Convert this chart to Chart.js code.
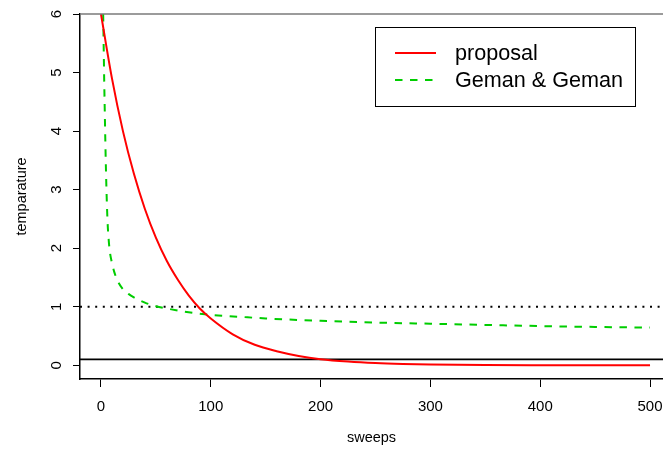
<!DOCTYPE html>
<html>
<head>
<meta charset="utf-8">
<script src="https://cdn.jsdelivr.net/npm/chart.js@4"></script>
<style>
  html, body { margin: 0; padding: 0; background: #fff; }
  canvas { display: block; }
</style>
</head>
<body>
<canvas id="tempChart" width="663" height="450"></canvas>
<script>
// sweeps / temperature values
const proposalSweeps = [0, 10, 20, 30, 40, 50, 60, 70, 80, 90, 100, 120, 140, 160, 180, 200, 225, 250, 275, 300, 350, 400, 450, 500];
const proposalTemp = [6.0, 4.9, 4.0, 3.27, 2.67, 2.18, 1.78, 1.46, 1.19, 0.97, 0.80, 0.53, 0.35, 0.24, 0.16, 0.105, 0.064, 0.038, 0.023, 0.014, 0.005, 0.002, 0.001, 0.0];

const gemanSweeps = [2, 2.5, 3, 3.5, 4, 5, 6, 7, 8, 10, 12, 15, 20, 25, 30, 40, 50, 60, 75, 100, 125, 150, 200, 250, 300, 350, 400, 450, 500];
const gemanTemp = [6.0, 5.4, 4.8, 4.3, 3.8, 3.0, 2.45, 2.15, 1.95, 1.75, 1.6, 1.45, 1.3, 1.22, 1.16, 1.07, 1.01, 0.97, 0.92, 0.86, 0.83, 0.8, 0.76, 0.73, 0.71, 0.69, 0.67, 0.655, 0.645];

const xTicks = [0, 100, 200, 300, 400, 500];
const yTicks = [0, 1, 2, 3, 4, 5, 6];
const xRange = [-19.1, 511.8];
const yRange = [-0.234, 6.0];
const refLevels = [1, 0.1]; // dotted line, solid line

const legendLabels = ['proposal', 'Geman & Geman'];
const FONT = '"Liberation Sans", Arial, Helvetica, sans-serif';

function toPoints(xs, ys) {
    return xs.map((x, i) => ({ x: x, y: ys[i] }));
}

// legend box + top frame line, drawn on top of the plot
const framePlugin = {
    id: 'frame',
    afterDraw(chart) {
        const ctx = chart.ctx;
        const area = chart.chartArea;
        ctx.save();
        // top of the plot box
        ctx.strokeStyle = '#7a7a7a';
        ctx.lineWidth = 1.5;
        ctx.beginPath();
        ctx.moveTo(area.left, area.top);
        ctx.lineTo(area.right, area.top);
        ctx.stroke();

        // legend
        const bx = 375.5, by = 27.5, bw = 260, bh = 79;
        ctx.fillStyle = '#fff';
        ctx.fillRect(bx, by, bw, bh);
        ctx.strokeStyle = '#000';
        ctx.lineWidth = 1;
        ctx.strokeRect(bx, by, bw, bh);

        const rows = [53, 80];
        const sets = chart.data.datasets;
        ctx.font = '21.6px ' + FONT;
        ctx.textBaseline = 'middle';
        ctx.textAlign = 'left';
        legendLabels.forEach((lab, i) => {
            const ds = sets[i];
            ctx.strokeStyle = ds.borderColor;
            ctx.lineWidth = ds.borderWidth;
            ctx.setLineDash(ds.borderDash || []);
            ctx.beginPath();
            ctx.moveTo(395, rows[i]);
            ctx.lineTo(436, rows[i]);
            ctx.stroke();
            ctx.setLineDash([]);
            ctx.fillStyle = '#000';
            ctx.fillText(lab, 455, rows[i] + 1);
        });
        ctx.restore();
    }
};

const ctx = document.getElementById('tempChart').getContext('2d');
new Chart(ctx, {
    type: 'line',
    data: {
        datasets: [
            {
                label: legendLabels[0],
                data: toPoints(proposalSweeps, proposalTemp),
                borderColor: '#ff0000',
                borderWidth: 2,
                pointRadius: 0,
                tension: 0.4,
                cubicInterpolationMode: 'monotone',
                fill: false
            },
            {
                label: legendLabels[1],
                data: toPoints(gemanSweeps, gemanTemp),
                borderColor: '#00cd00',
                borderWidth: 2,
                borderDash: [7.5, 7.5],
                pointRadius: 0,
                tension: 0.4,
                cubicInterpolationMode: 'monotone',
                fill: false
            },
            {
                label: 'level 1',
                data: toPoints(xRange, [refLevels[0], refLevels[0]]),
                borderColor: '#000',
                borderWidth: 1.8,
                borderDash: [2, 5.6],
                pointRadius: 0,
                fill: false
            },
            {
                label: 'level 0.1',
                data: toPoints(xRange, [refLevels[1], refLevels[1]]),
                borderColor: '#000',
                borderWidth: 1.8,
                pointRadius: 0,
                fill: false
            }
        ]
    },
    options: {
        responsive: false,
        animation: false,
        layout: { padding: { top: 14, right: 0, left: 0, bottom: 0 } },
        plugins: {
            legend: { display: false },
            tooltip: { enabled: false }
        },
        scales: {
            x: {
                type: 'linear',
                min: xRange[0],
                max: xRange[1],
                afterBuildTicks: (scale) => { scale.ticks = xTicks.map(v => ({ value: v })); },
                afterFit: (scale) => {
                    scale.height = 71;
                    scale.paddingLeft = 0;
                    scale.paddingRight = 0;
                },
                grid: {
                    drawOnChartArea: false,
                    tickLength: 8,
                    color: '#000',
                    tickWidth: 1
                },
                border: { display: true, color: '#000', width: 1.5 },
                ticks: {
                    color: '#000',
                    padding: 11,
                    maxRotation: 0,
                    font: { family: FONT, size: 15 }
                },
                title: {
                    display: true,
                    text: 'sweeps',
                    color: '#000',
                    font: { family: FONT, size: 14.5 },
                    padding: { top: 0, bottom: 3 }
                }
            },
            y: {
                type: 'linear',
                min: yRange[0],
                max: yRange[1],
                afterBuildTicks: (scale) => { scale.ticks = yTicks.map(v => ({ value: v })); },
                afterFit: (scale) => {
                    scale.width = 80;
                    scale.paddingTop = 0;
                    scale.paddingBottom = 0;
                },
                grid: {
                    drawOnChartArea: false,
                    tickLength: 7,
                    color: '#000',
                    tickWidth: 1
                },
                border: { display: true, color: '#000', width: 1.5 },
                ticks: {
                    color: '#000',
                    padding: 12,
                    minRotation: 90,
                    maxRotation: 90,
                    crossAlign: 'center',
                    font: { family: FONT, size: 15 }
                },
                title: {
                    display: true,
                    text: 'temparature',
                    color: '#000',
                    font: { family: FONT, size: 14.5 },
                    padding: { top: 13, bottom: 0 }
                }
            }
        }
    },
    plugins: [framePlugin]
});
</script>
</body>
</html>
